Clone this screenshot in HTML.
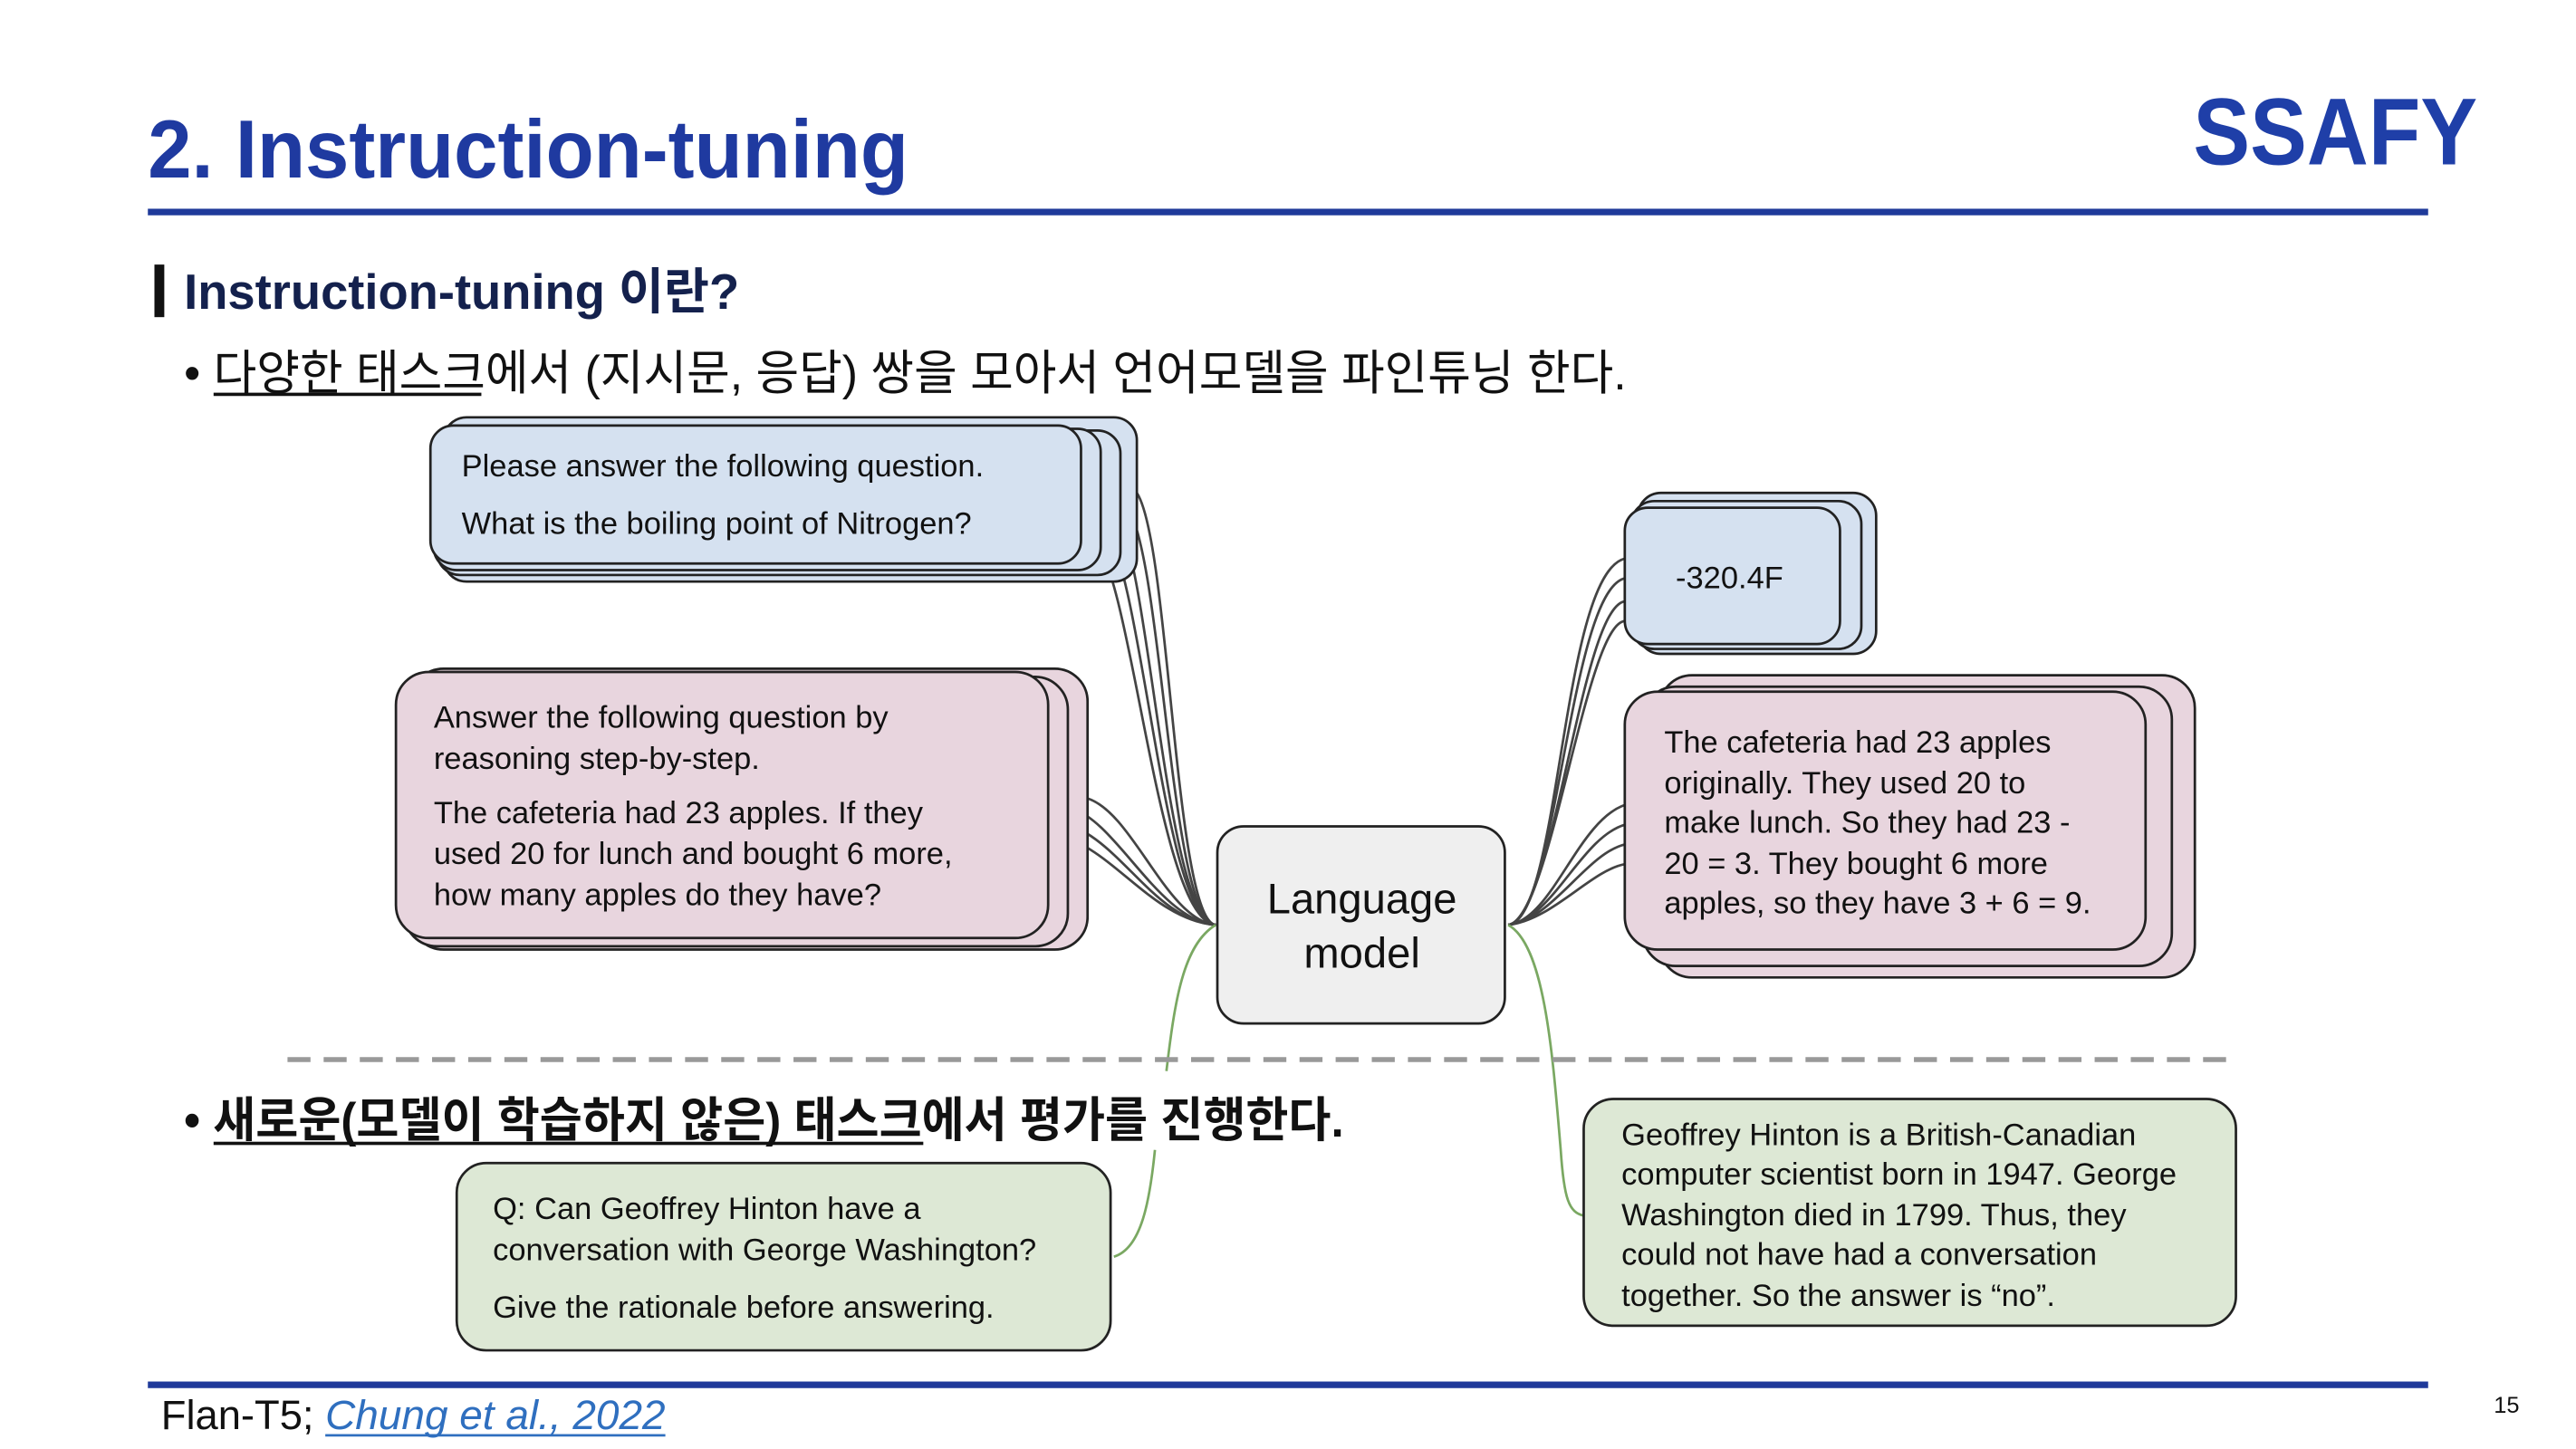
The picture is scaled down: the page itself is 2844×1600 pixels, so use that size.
<!DOCTYPE html>
<html><head><meta charset="utf-8"><style>
html,body{margin:0;padding:0;background:#fff;}
svg{display:block;}
text{font-family:"Liberation Sans","Noto Sans CJK KR",sans-serif;}
</style></head><body>
<svg width="2844" height="1600" viewBox="0 0 1568 882" xmlns="http://www.w3.org/2000/svg">
<rect width="1600" height="900" fill="#fff"/>
<!-- header -->
<text x="90" y="108" font-size="50" font-weight="bold" fill="#1f3aa0" textLength="463" lengthAdjust="spacingAndGlyphs">2. Instruction-tuning</text>
<text x="1335" y="100" font-size="58" font-weight="bold" fill="#1f3fa8" textLength="173" lengthAdjust="spacingAndGlyphs">SSAFY</text>
<rect x="90" y="127" width="1388" height="4" fill="#1f3a9a"/>
<rect x="94" y="161" width="6" height="32" fill="#111"/>
<text x="112" y="188" font-size="30" font-weight="bold" fill="#14214d" textLength="338" lengthAdjust="spacingAndGlyphs">Instruction-tuning 이란?</text>
<text x="112" y="237" font-size="29" fill="#111" textLength="878" lengthAdjust="spacingAndGlyphs">• 다양한 태스크에서 (지시문, 응답) 쌍을 모아서 언어모델을 파인튜닝 한다.</text>
<rect x="130" y="239" width="163" height="2" fill="#111"/>

<!-- gray connectors -->
<g fill="none" stroke="#444" stroke-width="1.5">
<path d="M740,563 C715,560 712,330 692,300"/>
<path d="M740,563 C712,560 708,340 686,308"/>
<path d="M740,563 C710,560 700,345 680,315"/>
<path d="M740,563 C708,560 696,350 672,320"/>
<path d="M740,563 C705,560 690,355 666,328"/>
<path d="M740,563 C710,560 690,495 662,486"/>
<path d="M740,563 C705,560 680,500 652,492"/>
<path d="M740,563 C700,560 680,505 642,500"/>
<path d="M740,563 C700,560 675,512 640,508"/>
<path d="M918,563 C950,560 950,350 989,340"/>
<path d="M918,563 C948,560 955,360 989,352"/>
<path d="M918,563 C946,560 962,370 989,366"/>
<path d="M918,563 C944,560 965,380 989,378"/>
<path d="M918,563 C945,560 960,500 989,490"/>
<path d="M918,563 C945,560 962,510 989,502"/>
<path d="M918,563 C945,560 965,520 989,514"/>
<path d="M918,563 C945,560 968,530 989,526"/>
</g>
<!-- green connectors -->
<g fill="none" stroke="#7aa862" stroke-width="1.5">
<path d="M740,563 C720,575 715,610 710,652"/>
<path d="M703,700 C700,730 695,760 678,765"/>
<path d="M918,563 C940,575 945,640 950,700 C952,730 955,738 964,740"/>
</g>

<!-- blue stack -->
<g stroke="#222" stroke-width="1.5" fill="#d5e1f0">
<rect x="270" y="254" width="422" height="100" rx="14"/>
<rect x="266" y="262" width="416" height="88" rx="14"/>
<rect x="264" y="261" width="406" height="86" rx="14"/>
<rect x="262" y="259" width="396" height="84" rx="14"/>
</g>
<text x="281" y="290" font-size="19" fill="#111">Please answer the following question.</text>
<text x="281" y="325" font-size="19" fill="#111">What is the boiling point of Nitrogen?</text>

<!-- pink stack left -->
<g stroke="#222" stroke-width="1.5" fill="#e8d5de">
<rect x="250" y="407" width="412" height="171" rx="20"/>
<rect x="246" y="412" width="404" height="164" rx="20"/>
<rect x="241" y="409" width="397" height="162" rx="20"/>
</g>
<g font-size="19" fill="#111">
<text x="264" y="443">Answer the following question by</text>
<text x="264" y="468">reasoning step-by-step.</text>
<text x="264" y="501">The cafeteria had 23 apples. If they</text>
<text x="264" y="526">used 20 for lunch and bought 6 more,</text>
<text x="264" y="551">how many apples do they have?</text>
</g>

<!-- LM -->
<rect x="741" y="503" width="175" height="120" rx="16" fill="#efefef" stroke="#222" stroke-width="1.5"/>
<text x="829" y="556" font-size="26" fill="#111" text-anchor="middle">Language</text>
<text x="829" y="589" font-size="26" fill="#111" text-anchor="middle">model</text>

<!-- -320.4F -->
<g stroke="#222" stroke-width="1.5" fill="#d5e1f0">
<rect x="997" y="300" width="145" height="98" rx="14"/>
<rect x="993" y="305" width="140" height="90" rx="14"/>
<rect x="989" y="309" width="131" height="83" rx="14"/>
</g>
<text x="1020" y="358" font-size="19" fill="#111">-320.4F</text>

<!-- pink right -->
<g stroke="#222" stroke-width="1.5" fill="#e8d5de">
<rect x="1010" y="411" width="326" height="184" rx="20"/>
<rect x="1000" y="418" width="322" height="170" rx="20"/>
<rect x="989" y="421" width="317" height="157" rx="20"/>
</g>
<g font-size="19" fill="#111">
<text x="1013" y="458">The cafeteria had 23 apples</text>
<text x="1013" y="483">originally. They used 20 to</text>
<text x="1013" y="507">make lunch. So they had 23 -</text>
<text x="1013" y="532">20 = 3. They bought 6 more</text>
<text x="1013" y="556">apples, so they have 3 + 6 = 9.</text>
</g>

<!-- dashed -->
<line x1="175" y1="645" x2="1355" y2="645" stroke="#999" stroke-width="3" stroke-dasharray="14 8"/>

<text x="112" y="692" font-size="29" font-weight="bold" fill="#111" textLength="706" lengthAdjust="spacingAndGlyphs">• 새로운(모델이 학습하지 않은) 태스크에서 평가를 진행한다.</text>
<rect x="130" y="695" width="432" height="2" fill="#111"/>

<!-- green boxes -->
<rect x="278" y="708" width="398" height="114" rx="18" fill="#dde8d5" stroke="#222" stroke-width="1.5"/>
<g font-size="19" fill="#111">
<text x="300" y="742">Q: Can Geoffrey Hinton have a</text>
<text x="300" y="767">conversation with George Washington?</text>
<text x="300" y="802">Give the rationale before answering.</text>
</g>
<rect x="964" y="669" width="397" height="138" rx="18" fill="#dde8d5" stroke="#222" stroke-width="1.5"/>
<g font-size="19" fill="#111">
<text x="987" y="697">Geoffrey Hinton is a British-Canadian</text>
<text x="987" y="721">computer scientist born in 1947. George</text>
<text x="987" y="746">Washington died in 1799. Thus, they</text>
<text x="987" y="770">could not have had a conversation</text>
<text x="987" y="795">together. So the answer is “no”.</text>
</g>

<!-- footer -->
<rect x="90" y="841" width="1388" height="4" fill="#1f3a9a"/>
<text x="98" y="870" font-size="25" fill="#111">Flan-T5;</text>
<text x="198" y="870" font-size="25" font-style="italic" fill="#2f6fbf" textLength="207" lengthAdjust="spacingAndGlyphs">Chung et al., 2022</text>
<rect x="198" y="873" width="207" height="1.5" fill="#2f6fbf"/>
<text x="1518" y="860" font-size="14" fill="#111">15</text>
</svg>
</body></html>
